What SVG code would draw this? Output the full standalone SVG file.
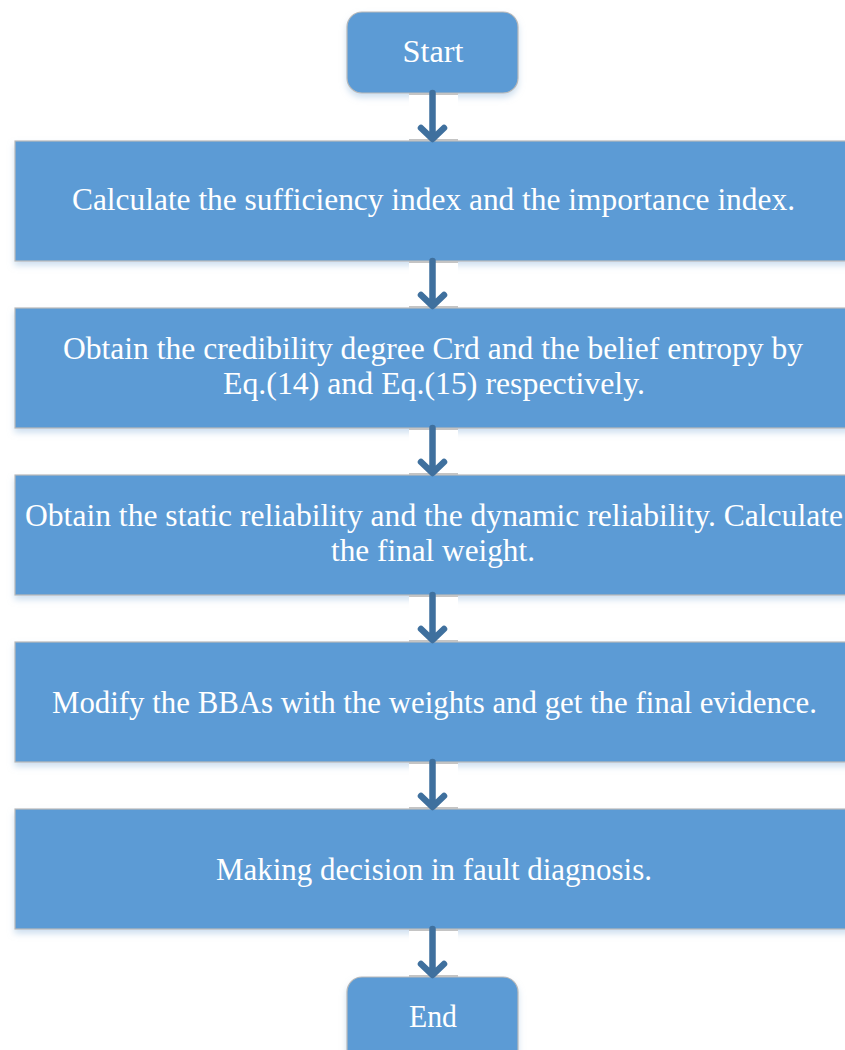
<svg xmlns="http://www.w3.org/2000/svg" width="845" height="1050" viewBox="0 0 845 1050">
  <defs>
    <style>
      .box { fill: #5b9bd5; stroke: #b9b9b9; stroke-width: 1.2; }
      .lbl { font-family: "Liberation Serif", "DejaVu Serif", serif; font-size: 31px; fill: #ffffff; text-anchor: middle; }
      .conn { stroke: #3f709e; stroke-width: 6.5; fill: none; stroke-linecap: round; stroke-linejoin: round; }
      .gap { fill: #ffffff; }
      .tick { stroke: #c4c4c4; stroke-width: 2; }
    </style>
    <filter id="sh" x="-5%" y="-10%" width="110%" height="130%">
      <feDropShadow dx="0" dy="4" stdDeviation="3" flood-color="#9dbfe0" flood-opacity="0.5"/>
    </filter>
  </defs>
  <rect width="845" height="1050" fill="#ffffff"/>

  <g id="start">
    <rect class="box" x="347" y="12" width="171" height="81" rx="15" filter="url(#sh)"/>
    <text class="lbl" x="433" y="62" textLength="61" lengthAdjust="spacingAndGlyphs">Start</text>
  </g>

  <g id="step1">
    <rect class="box" x="15" y="141" width="840" height="120" filter="url(#sh)"/>
    <text class="lbl" x="433.5" y="210" textLength="723" lengthAdjust="spacingAndGlyphs">Calculate the sufficiency index and the importance index.</text>
  </g>

  <g id="step2">
    <rect class="box" x="15" y="308" width="840" height="120" filter="url(#sh)"/>
    <text class="lbl" x="433" y="359" textLength="740" lengthAdjust="spacingAndGlyphs">Obtain the credibility degree Crd and the belief entropy by</text>
    <text class="lbl" x="434" y="394" textLength="422" lengthAdjust="spacingAndGlyphs">Eq.(14) and Eq.(15) respectively.</text>
  </g>

  <g id="step3">
    <rect class="box" x="15" y="475" width="840" height="120" filter="url(#sh)"/>
    <text class="lbl" x="434" y="526" textLength="818" lengthAdjust="spacingAndGlyphs">Obtain the static reliability and the dynamic reliability. Calculate</text>
    <text class="lbl" x="433" y="561" textLength="204" lengthAdjust="spacingAndGlyphs">the final weight.</text>
  </g>

  <g id="step4">
    <rect class="box" x="15" y="642" width="840" height="120" filter="url(#sh)"/>
    <text class="lbl" x="434.5" y="713" textLength="765" lengthAdjust="spacingAndGlyphs">Modify the BBAs with the weights and get the final evidence.</text>
  </g>

  <g id="step5">
    <rect class="box" x="15" y="809" width="840" height="120" filter="url(#sh)"/>
    <text class="lbl" x="434" y="880" textLength="436" lengthAdjust="spacingAndGlyphs">Making decision in fault diagnosis.</text>
  </g>

  <g id="end">
    <rect class="box" x="347" y="977" width="171" height="100" rx="15" filter="url(#sh)"/>
    <text class="lbl" x="433" y="1027" textLength="48" lengthAdjust="spacingAndGlyphs">End</text>
  </g>

  <g id="connectors">
    <rect class="gap" x="409" y="94" width="49" height="46"/>
    <line class="tick" x1="409" y1="94" x2="458" y2="94"/>
    <line class="tick" x1="409" y1="140" x2="458" y2="140"/>
    <path class="conn" d="M432.5 93 V137 M421 128 L432.5 139 L444 128"/>

    <rect class="gap" x="409" y="262" width="49" height="45"/>
    <line class="tick" x1="409" y1="262" x2="458" y2="262"/>
    <line class="tick" x1="409" y1="307" x2="458" y2="307"/>
    <path class="conn" d="M432.5 261 V304 M421 295 L432.5 306 L444 295"/>

    <rect class="gap" x="409" y="429" width="49" height="45"/>
    <line class="tick" x1="409" y1="429" x2="458" y2="429"/>
    <line class="tick" x1="409" y1="474" x2="458" y2="474"/>
    <path class="conn" d="M432.5 428 V471 M421 462 L432.5 473 L444 462"/>

    <rect class="gap" x="409" y="596" width="49" height="45"/>
    <line class="tick" x1="409" y1="596" x2="458" y2="596"/>
    <line class="tick" x1="409" y1="641" x2="458" y2="641"/>
    <path class="conn" d="M432.5 595 V638 M421 629 L432.5 640 L444 629"/>

    <rect class="gap" x="409" y="763" width="49" height="45"/>
    <line class="tick" x1="409" y1="763" x2="458" y2="763"/>
    <line class="tick" x1="409" y1="808" x2="458" y2="808"/>
    <path class="conn" d="M432.5 762 V805 M421 796 L432.5 807 L444 796"/>

    <rect class="gap" x="409" y="930" width="49" height="46"/>
    <line class="tick" x1="409" y1="930" x2="458" y2="930"/>
    <line class="tick" x1="409" y1="976" x2="458" y2="976"/>
    <path class="conn" d="M432.5 929 V973 M421 964 L432.5 975 L444 964"/>
  </g>
</svg>
